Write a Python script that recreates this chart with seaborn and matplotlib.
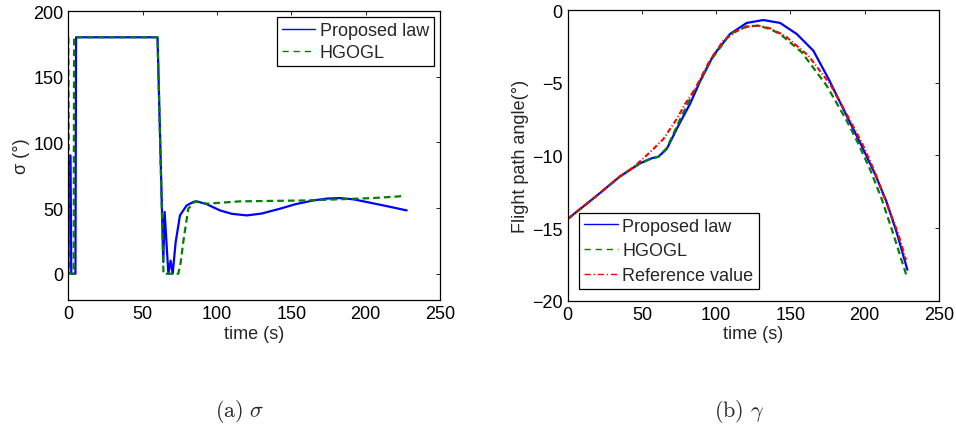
import numpy as np
import pandas as pd
import matplotlib
matplotlib.use("Agg")
import matplotlib.pyplot as plt
import seaborn as sns

# ---- data: sigma (left panel) ----
t_sig_prop = [0, 0.5, 1.5, 2.0, 4.8, 5.2, 60.0, 63.9, 64.8, 67.3, 68.8, 70.2, 72.2, 75.1, 79.6,
              84.1, 86.4, 93.0, 102.0, 110.0, 120.0, 130.0, 142.4, 153.0, 164.8, 174.0, 182.7,
              192.0, 200.7, 214.0, 227.6]
sig_prop = [0, 90, 90, 0, 0, 180, 180, 9, 47, 0, 10, 0, 24, 44.4, 52,
            54.6, 55.1, 53, 48.2, 45.6, 44.4, 45.8, 49.5, 53, 55.8, 57.2, 57.6,
            56.6, 54.6, 51.5, 48.2]

t_sig_hg = [0, 0.5, 3.6, 3.9, 60.0, 64.0, 74.0, 75.5, 77.3, 80.7, 85.2, 93.1, 115.5,
            160.3, 205.1, 225.3]
sig_hg = [180, 0, 0, 180, 180, 0, 0, 8, 24, 49.5, 55.1, 53.3, 55.1,
          55.8, 57.6, 59.1]

# ---- data: flight path angle gamma (right panel) ----
t_gam_prop = [0, 19.5, 35.2, 48.7, 56.6, 61.0, 66.7, 74.5, 82.3, 89.1, 98.0, 109.3, 120.5,
              131.7, 143.0, 154.2, 165.4, 175.7, 188.9, 197.9, 206.9, 214.8, 221.5, 228.7]
gam_prop = [-14.38, -12.78, -11.45, -10.55, -10.2, -10.1, -9.56, -7.96, -6.47, -4.92, -3.14,
            -1.65, -0.89, -0.69, -0.89, -1.65, -2.8, -4.75, -7.5, -9.34, -11.28, -13.23,
            -15.3, -17.87]

t_gam_hg = [0, 19.5, 35.2, 48.7, 56.6, 61.0, 66.7, 76.8, 84.6, 97.0, 109.3, 120.5, 128.4,
            136.2, 143.0, 157.6, 174.4, 187.8, 195.7, 203.5, 211.4, 219.2, 224.9, 228.7]
gam_hg = [-14.38, -12.78, -11.45, -10.55, -10.2, -10.1, -9.5, -7.27, -5.66, -3.37, -1.65,
          -1.12, -1.08, -1.31, -1.65, -2.91, -5.21, -7.6, -9.2, -10.94, -13.0, -15.4,
          -17.25, -18.45]

t_gam_ref = [0, 19.5, 35.2, 44.2, 55.4, 64.4, 73.4, 79.0, 85.7, 95.0, 104.8, 113.8, 121.0,
             128.4, 136.0, 146.3, 162.0, 176.6, 187.8, 197.9, 206.9, 214.8, 222.6, 227.8]
gam_ref = [-14.38, -12.78, -11.45, -10.82, -9.79, -8.88, -7.5, -6.47, -5.44, -3.6, -2.1,
           -1.45, -1.15, -1.08, -1.25, -1.77, -3.14, -5.09, -7.16, -9.1, -11.17, -13.35,
           -15.41, -17.2]

x_ticks = [0, 50, 100, 150, 200, 250]
sig_ticks = [0, 50, 100, 150, 200]
gam_ticks = [-20, -15, -10, -5, 0]

sns.set_theme(style="white")
plt.rcParams["font.family"] = ["Liberation Sans", "DejaVu Sans"]
plt.rcParams["mathtext.fontset"] = "cm"

fig = plt.figure(figsize=(9.56, 4.27), dpi=100)
ax1 = fig.add_axes([68.3 / 956, 1 - 301 / 427, (440 - 68.3) / 956, (301 - 12) / 427])
ax2 = fig.add_axes([567.7 / 956, 1 - 301.7 / 427, (939 - 567.7) / 956, (301.7 - 11) / 427])

FS = 13
blue, green, red = "#0000FF", "#008000", "#FF0000"
GREEN_DASH = (3, 1.8)
RED_DASH = (2.6, 1.1, 0.5, 1.1)

def draw(ax, t, v, color, label, lw=1.6, dashes=None):
    df = pd.DataFrame({"t": t, "v": v})
    sns.lineplot(data=df, x="t", y="v", ax=ax, color=color, lw=lw, sort=False,
                 estimator=None, label=label)
    if dashes is not None:
        ax.lines[-1].set_dashes(dashes)

draw(ax1, t_sig_prop, sig_prop, blue, "Proposed law")
draw(ax1, t_sig_hg, sig_hg, green, "HGOGL", dashes=GREEN_DASH)

draw(ax2, t_gam_prop, gam_prop, blue, "Proposed law")
draw(ax2, t_gam_hg, gam_hg, green, "HGOGL", dashes=GREEN_DASH)
draw(ax2, t_gam_ref, gam_ref, red, "Reference value", lw=1.5, dashes=RED_DASH)

ax1.set_xlim(0, 250)
ax1.set_ylim(-20, 200)
ax1.set_xticks(x_ticks)
ax1.set_yticks(sig_ticks)
ax1.set_xlabel("time (s)", fontsize=FS, labelpad=2)
ax1.set_ylabel("σ (°)", fontsize=FS, labelpad=2)

ax2.set_xlim(0, 250)
ax2.set_ylim(-20, 0)
ax2.set_xticks(x_ticks)
ax2.set_yticks(gam_ticks)
ax2.set_xlabel("time (s)", fontsize=FS, labelpad=2)
ax2.set_ylabel("Flight path angle(°)", fontsize=FS, labelpad=2)

for ax in (ax1, ax2):
    ax.tick_params(direction="in", top=True, right=True, length=3, width=0.6,
                   labelsize=FS, pad=3.5, colors="black")
    for s in ax.spines.values():
        s.set_color("black")
        s.set_linewidth(0.9)

for ax, loc, bap, lsp in ((ax1, "upper right", 0.33, 0.3), (ax2, "lower left", 0.65, 0.42)):
    leg = ax.legend(loc=loc, fontsize=FS, frameon=True, fancybox=False,
                    edgecolor="black", framealpha=1, handlelength=1.85,
                    handletextpad=0.25, borderpad=0.28, labelspacing=lsp,
                    borderaxespad=bap)
    leg.get_frame().set_linewidth(0.9)
    for h in leg.get_lines():
        h.set_linewidth(1.0)
    hl = leg.get_lines()
    if len(hl) > 1:
        hl[1].set_dashes((4.5, 3.5))
    if len(hl) > 2:
        hl[2].set_dashes((4.5, 2, 1, 2))

fig.text(240 / 956, 1 - 412 / 427, r"$\mathrm{(a)}\ \sigma$", ha="center", va="center",
         fontsize=16)
fig.text(739 / 956, 1 - 412 / 427, r"$\mathrm{(b)}\ \gamma$", ha="center", va="center",
         fontsize=16)

fig.savefig("out.png", dpi=100, facecolor="white")
